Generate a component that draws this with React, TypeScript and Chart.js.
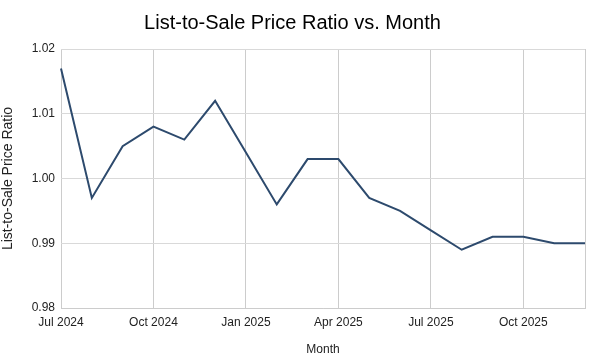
import React, { useEffect, useRef } from "react";
import { Chart, registerables } from "chart.js";

Chart.register(...registerables);

const months: string[] = [
  "Jul 2024", "Aug 2024", "Sep 2024", "Oct 2024", "Nov 2024", "Dec 2024",
  "Jan 2025", "Feb 2025", "Mar 2025", "Apr 2025", "May 2025", "Jun 2025",
  "Jul 2025", "Aug 2025", "Sep 2025", "Oct 2025", "Nov 2025", "Dec 2025",
];

const ratios: number[] = [
  1.017, 0.997, 1.005, 1.008, 1.006, 1.012,
  1.004, 0.996, 1.003, 1.003, 0.997, 0.995,
  0.992, 0.989, 0.991, 0.991, 0.99, 0.99,
];

const yTicks: number[] = [0.98, 0.99, 1.0, 1.01, 1.02];

const FONT = "'Liberation Sans', Arial, sans-serif";

export default function App() {
  const ref = useRef<HTMLCanvasElement | null>(null);

  useEffect(() => {
    if (!ref.current) return;
    const chart = new Chart(ref.current, {
      type: "line",
      data: {
        labels: months,
        datasets: [
          {
            label: "List-to-Sale Price Ratio",
            data: ratios,
            borderColor: "#2d4a6d",
            borderWidth: 2,
            pointRadius: 0,
            tension: 0,
            fill: false,
          },
        ],
      },
      options: {
        animation: false,
        responsive: false,
        maintainAspectRatio: false,
        layout: { padding: { left: 0, right: 7, top: 0, bottom: 0 } },
        plugins: {
          legend: { display: false },
          tooltip: { enabled: false },
          title: {
            display: true,
            text: "List-to-Sale Price Ratio vs. Month",
            color: "#000",
            font: { family: FONT, size: 20, weight: "normal" },
            padding: { top: 11, bottom: 14 },
          },
        },
        scales: {
          x: {
            type: "category",
            offset: false,
            grid: {
              drawTicks: false,
              color: (ctx: any) =>
                ctx.index % 3 === 0 || ctx.index === months.length - 1 ? "#cccccc" : "rgba(0,0,0,0)",
              lineWidth: 1,
            },
            border: { color: "#cccccc" },
            ticks: {
              autoSkip: false,
              maxRotation: 0,
              padding: 7,
              color: "#222",
              font: { family: FONT, size: 12 },
              callback: (_v: any, i: number) => (i % 3 === 0 ? months[i] : ""),
            },
            title: {
              display: true,
              text: "Month",
              color: "#222",
              font: { family: FONT, size: 12 },
              padding: { top: 0, bottom: 3 },
            },
            afterFit: (s: any) => {
              s.height = 52;
            },
          },
          y: {
            min: 0.98,
            max: 1.02,
            afterBuildTicks: (s: any) => {
              s.ticks = yTicks.map((v) => ({ value: v }));
            },
            grid: { drawTicks: false, color: "#d9d9d9" },
            border: { display: false },
            ticks: {
              padding: 6,
              color: "#222",
              font: { family: FONT, size: 12 },
              callback: (v: any) => Number(v).toFixed(2),
            },
            title: {
              display: true,
              text: "List-to-Sale Price Ratio",
              color: "#222",
              font: { family: FONT, size: 14 },
              padding: { top: 0, bottom: 0 },
            },
            afterFit: (s: any) => {
              s.width = 61;
            },
          },
        },
      },
    });
    return () => chart.destroy();
  }, []);

  return (
    <div style={{ position: "absolute", left: 0, top: 0, width: 592, height: 360, background: "#fff" }}>
      <canvas ref={ref} width={592} height={360} style={{ width: 592, height: 360 }} />
    </div>
  );
}
